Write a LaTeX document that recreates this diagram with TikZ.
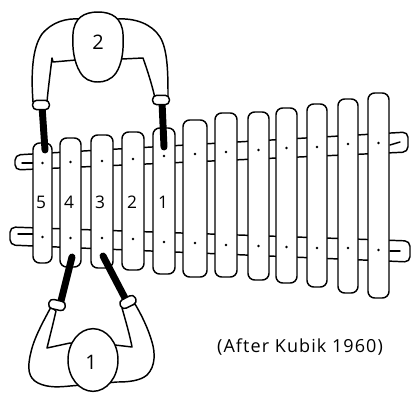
\documentclass[tikz,border=0pt]{standalone}
\usepackage{fontspec}
\setmainfont{Open Sans}
\newfontfamily\notefont[LetterSpace=6]{Open Sans}
\usetikzlibrary{shapes.geometric}
\begin{document}
\begin{tikzpicture}[x=0.75pt,y=-0.75pt,
  ink/.style={line width=1.1pt, line join=round, line cap=round},
  keybar/.style={ink, fill=white, rounded corners=5pt},
  railbar/.style={ink, fill=white, rounded corners=4pt},
  stick/.style={line width=5.2pt, line cap=round},
  cuff/.style={ink, draw, fill=white, rectangle, rounded corners=3pt, minimum width=12.5pt, minimum height=7pt, inner sep=0pt},
  body/.style={ink, fill=white},
  head/.style={ink, draw, fill=white, ellipse, inner sep=0pt},
  keynum/.style={font=\fontsize{13}{13}\selectfont, inner sep=0pt},
  headnum/.style={font=\fontsize{15}{15}\selectfont, inner sep=0pt},
  ]
\useasboundingbox (0,0) rectangle (413,393);

% the two rails under the bars
\draw[railbar] (15,155) -- (408,132) -- (408,152) -- (15,170) -- cycle;
\draw[railbar] (10,227) -- (410,241) -- (410,262) -- (10,245) -- cycle;
\draw[ink] (22,163) -- (33,163);
\draw[ink] (18,234) -- (33,234);
\draw[ink] (390,145) -- (400,142);
\draw[ink] (390,251) -- (400,251);

% twelve bars with their pin holes
\foreach \l/\r/\t/\b/\u/\d [count=\i] in {
  33/52/143/263/163/237, 60/81/138/267/162/238, 91/113/135/268/161/238,
  122/144/132/270/159/239, 153/175/128/274/156/242, 183/207/120/277/154/243,
  215/237/113/277/152/245, 248/269/112/280/150/246, 276/297/108/283/148/247,
  307/327/104/287/147/248, 338/358/99/293/144/248, 368/389/93/298/143/250}{
  \draw[keybar] (\l,\t) rectangle (\r,\b);
  \fill ({(\l+\r)/2},\u) circle (1pt);
  \fill ({(\l+\r)/2},\d) circle (1pt);
}

% bar numbers
\node[keynum] (n5) at (41,202) {5};
\node[keynum] (n4) at (69,202) {4};
\node[keynum] (n3) at (100,202) {3};
\node[keynum] (n2) at (132,202) {2};
\node[keynum] (n1) at (163,202) {1};

% player 2 (behind the instrument)
\coordinate (p2la) at (42,106);
\coordinate (p2lb) at (45,150);
\coordinate (p2ra) at (162,102);
\coordinate (p2rb) at (164,147);
\draw[stick] (p2la) -- (p2lb);
\draw[stick] (p2ra) -- (p2rb);
\draw[body] (33,102) .. controls (31,75) and (32,48) .. (42,34)
  .. controls (52,22) and (66,18) .. (80,19) -- (118,19)
  .. controls (135,18) and (152,24) .. (160,37)
  .. controls (168,50) and (168,75) .. (168,98) -- (155,98)
  .. controls (152,85) and (148,72) .. (143,58) -- (122,59) -- (76,60) -- (53,62)
  -- (52,58) .. controls (50,75) and (48,90) .. (47,102) -- cycle;
\node[cuff] (c2l) at (41,105) {};
\node[cuff] (c2r) at (161,100) {};
% egg-shaped head, broader at the top
\coordinate (head2) at (98,47);
\draw[body] (98,12) .. controls (112,12) and (122,18) .. (123,34)
  .. controls (124,50) and (122,64) .. (116,73)
  .. controls (111,80) and (104,82) .. (98,82)
  .. controls (90,82) and (84,79) .. (80,72)
  .. controls (74,62) and (72,48) .. (73,34)
  .. controls (74,18) and (84,12) .. (98,12) -- cycle;
\node[headnum] (lab2) at (98,42) {2};

% player 1 (in front of the instrument)
\coordinate (p1la) at (61,301);
\coordinate (p1lb) at (72,257);
\coordinate (p1ra) at (126,300);
\coordinate (p1rb) at (103,256);
\draw[stick] (p1la) -- (p1lb);
\draw[stick] (p1ra) -- (p1rb);
\draw[body] (51,307) .. controls (44,320) and (34,338) .. (31,352)
  .. controls (27,368) and (28,378) .. (38,383)
  .. controls (48,388) and (60,387) .. (70,386) -- (117,382)
  .. controls (128,382) and (140,381) .. (147,375)
  .. controls (156,366) and (155,352) .. (152,342)
  .. controls (148,328) and (141,314) .. (135,304) -- (122,308)
  .. controls (126,322) and (130,336) .. (132,347) -- (115,345) -- (70,343) -- (47,348)
  .. controls (50,336) and (53,324) .. (56,311) -- cycle;
\node[cuff, rotate=-13] (c1l) at (57,305) {};
\node[cuff, rotate=27] (c1r) at (128,302) {};
\node[head, minimum width=37.5pt, minimum height=47pt] (head1) at (93,360) {};
\node[headnum] (lab1) at (91,362) {1};

% source note
\node[font=\notefont\fontsize{13.5}{13.5}\selectfont, inner sep=0pt] (credit) at (300,347) {(After Kubik 1960)};
\end{tikzpicture}
\end{document}
